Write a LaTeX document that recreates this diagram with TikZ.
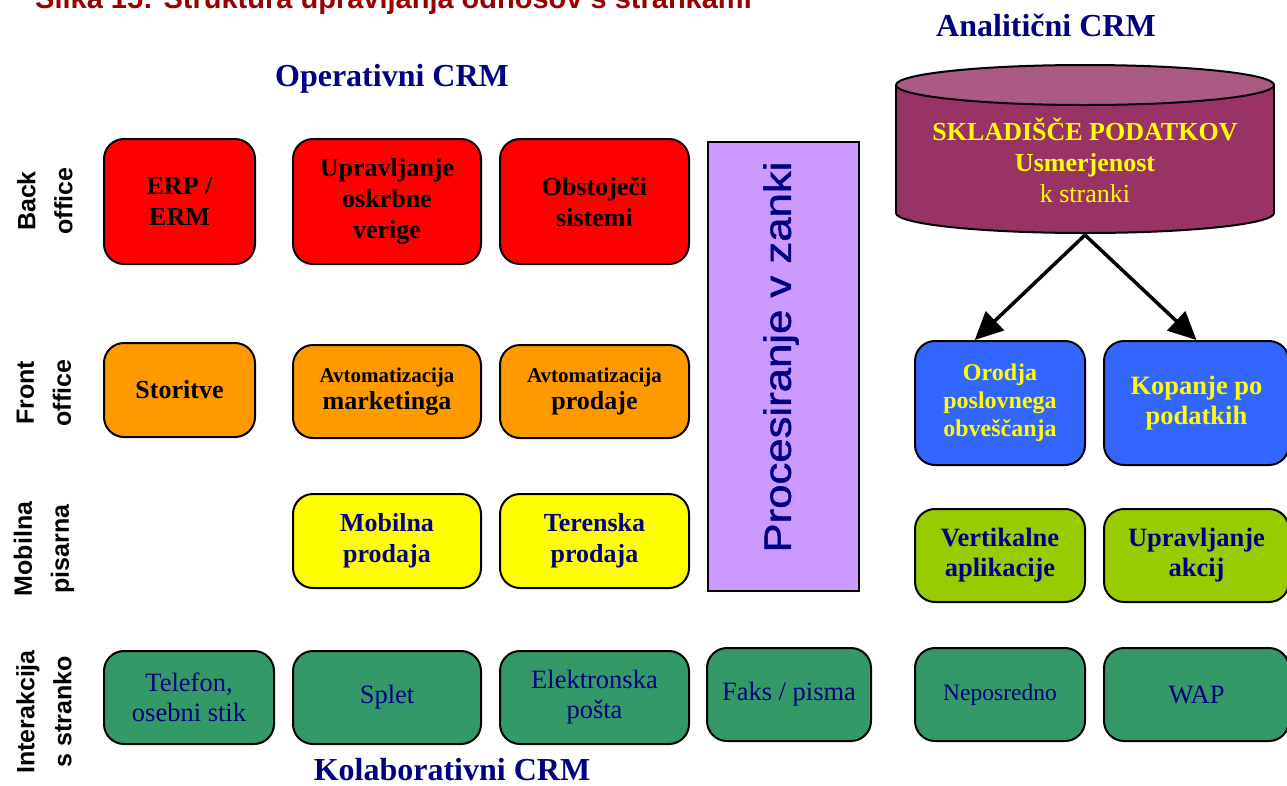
\documentclass[tikz,border=0pt]{standalone}
\usepackage{fontspec}
\usepackage{graphicx}
\setmainfont{Liberation Serif}
\newfontfamily\arialfont{Liberation Sans}
\newfontfamily\loopfont[FakeBold=1.2]{Liberation Sans}
\usetikzlibrary{arrows.meta,calc}

\definecolor{navy}{HTML}{000080}
\definecolor{captionred}{HTML}{990000}
\definecolor{plumbody}{HTML}{993366}
\definecolor{plumtop}{HTML}{AB5A83}
\definecolor{backred}{HTML}{FF0000}
\definecolor{frontorange}{HTML}{FF9900}
\definecolor{mobileyellow}{HTML}{FFFF00}
\definecolor{contactgreen}{HTML}{339966}
\definecolor{toolblue}{HTML}{3366FF}
\definecolor{applime}{HTML}{99CC00}
\definecolor{looppurple}{HTML}{CC99FF}

\begin{document}
\begin{tikzpicture}[x=1pt,y=-1pt,
  box/.style={draw=black, line width=2, rounded corners=20, inner sep=0, align=center},
  backbox/.style={box, fill=backred, minimum height=125,
    font=\fontsize{26}{31}\selectfont\bfseries},
  frontbox/.style={box, fill=frontorange, minimum height=93,
    font=\fontsize{26}{27}\selectfont\bfseries},
  mobilebox/.style={box, fill=mobileyellow, minimum height=94, text=navy,
    font=\fontsize{26}{31}\selectfont\bfseries},
  contactbox/.style={box, fill=contactgreen, minimum height=93, text=navy,
    font=\fontsize{26.5}{30}\selectfont},
  toolbox/.style={box, fill=toolblue, minimum height=124, text=mobileyellow,
    font=\fontsize{26.5}{30}\selectfont\bfseries},
  appbox/.style={box, fill=applime, minimum height=93, text=navy,
    font=\fontsize{26.5}{30}\selectfont\bfseries},
  rowlabel/.style={rotate=90, align=center, inner sep=0,
    font=\fontsize{25}{37}\selectfont\arialfont\bfseries},
  heading/.style={anchor=base, text=navy, inner sep=0,
    font=\fontsize{32}{36}\selectfont\bfseries},
  feed/.style={line width=3.5, -{Triangle[length=28,width=26]}}
]
\clip (0,0) rectangle (1287,785);

% caption running off the top edge
\node[anchor=base west, inner sep=0, text=captionred,
  font=\fontsize{29}{32}\selectfont\arialfont\bfseries]
  (caption) at (35,8) {Slika 15: Struktura upravljanja odnosov s strankami};

% group headings
\node[heading] (operative) at (392,86) {Operativni CRM};
\node[heading] (analytic) at (1046,36) {Analitični CRM};
\node[heading] (collab) at (452,780) {Kolaborativni CRM};

% row labels
\node[rowlabel] (lback) at (45,201) {Back\\office};
\node[rowlabel] (lfront) at (44,393) {Front\\office};
\node[rowlabel] (lmobile) at (44,549) {Mobilna\\pisarna};
\node[rowlabel] (lcontact) at (44,712) {Interakcija\\s stranko};

% back office
\node[backbox, minimum width=151] (erp) at (179.5,201.5) {ERP /\\ERM};
\node[backbox, minimum width=188] (supply) at (387,201.5) {Upravljanje\\oskrbne\\verige};
\node[backbox, minimum width=189] (legacy) at (594.5,201.5) {Obstoječi\\sistemi};

% front office
\node[frontbox, minimum width=151, minimum height=94] (service) at (179.5,390) {Storitve};
\node[frontbox, minimum width=188] (marketing) at (387,391.5)
  {{\fontsize{21}{27}\selectfont Avtomatizacija}\\marketinga};
\node[frontbox, minimum width=189] (sales) at (594.5,391.5)
  {{\fontsize{21}{27}\selectfont Avtomatizacija}\\prodaje};

% mobile office
\node[mobilebox, minimum width=188] (msales) at (387,541) {Mobilna\\prodaja};
\node[mobilebox, minimum width=189] (fsales) at (594.5,541) {Terenska\\prodaja};

% customer interaction
\node[contactbox, minimum width=170] (phone) at (189,697.5) {Telefon,\\osebni stik};
\node[contactbox, minimum width=188] (web) at (387,697.5) {Splet};
\node[contactbox, minimum width=189] (email) at (594.5,697.5) {Elektronska\\pošta};
\node[contactbox, minimum width=164] (fax) at (789,694.5) {\raisebox{-3pt}{Faks / pisma}};
\node[contactbox, minimum width=170, font=\fontsize{23.5}{28}\selectfont] (direct)
  at (1000,694.5) {Neposredno};
\node[contactbox, minimum width=185] (wap) at (1196.5,694.5) {WAP};

% closed-loop processing column
\node[draw=black, line width=2, fill=looppurple, minimum width=151, minimum height=449,
  inner sep=0] (loop) at (783.5,366.5) {};
\node[rotate=90, inner sep=0, text=navy, font=\fontsize{38}{40}\selectfont\loopfont]
  (looptext) at (781,357) {\scalebox{1.15}[1]{Procesiranje v zanki}};

% analytic tools and applications
\node[toolbox, minimum width=170, font=\fontsize{24}{28}\selectfont\bfseries] (bi)
  at (1000,403) {Orodja\\poslovnega\\obveščanja};
\node[toolbox, minimum width=185] (mining) at (1196.5,403) {Kopanje po\\podatkih};
\node[appbox, minimum width=170] (vertical) at (1000,555.5) {Vertikalne\\aplikacije};
\node[appbox, minimum width=185] (campaign) at (1196.5,555.5) {Upravljanje\\akcij};

% data warehouse cylinder
\draw[line width=2, fill=plumbody] (1085,213) ellipse [x radius=189, y radius=20];
\fill[plumbody] (896,85) rectangle (1274,213);
\draw[line width=2] (896,85) -- (896,213) (1274,85) -- (1274,213);
\draw[line width=2, fill=plumtop] (1085,85) ellipse [x radius=189, y radius=20];
\node[align=center, text=mobileyellow, inner sep=0,
  font=\fontsize{26}{31}\selectfont] (warehouse) at (1085,160)
  {\textbf{SKLADIŠČE PODATKOV}\\\textbf{Usmerjenost}\\k stranki};
\coordinate (whbase) at (1085,235);

% warehouse feeds the analytic tools
\draw[feed] (whbase) -- ($(bi.north west)!0.353!(bi.north east)$);
\draw[feed] (whbase) -- (mining.north);
\end{tikzpicture}
\end{document}
